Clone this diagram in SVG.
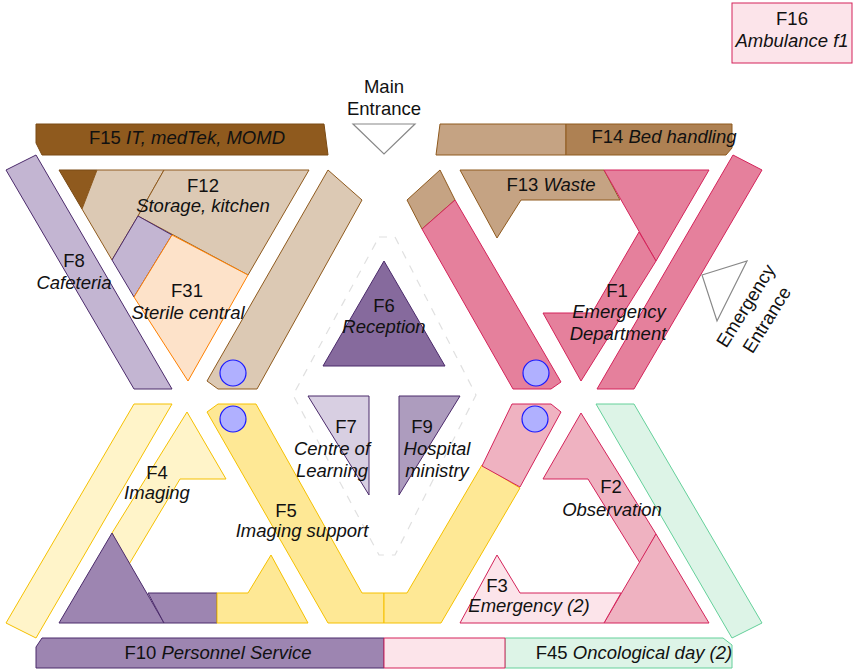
<svg xmlns="http://www.w3.org/2000/svg" width="853" height="672" viewBox="0 0 853 672">
<style>
text{font-family:"Liberation Sans",Arial,sans-serif;font-size:18.5px;fill:#111;text-anchor:middle}
.i{font-style:italic}
.brD{fill:#8f5a1e;stroke:#7a4a14;stroke-width:1}
.tan{fill:#dcc9b4;stroke:#8f5a1e;stroke-width:1}
.tanM{fill:#c5a383;stroke:#8f5a1e;stroke-width:1}
.tanD{fill:#ae8153;stroke:#8f5a1e;stroke-width:1}
.pk{fill:#e5809c;stroke:#d4235a;stroke-width:1}
.pkL{fill:#efb2c1;stroke:#d4235a;stroke-width:1}
.pkP{fill:#fce4ea;stroke:#d4235a;stroke-width:1}
.pu6{fill:#866a9d;stroke:#4b2a6b;stroke-width:1}
.pu7{fill:#d8cfe2;stroke:#4b2a6b;stroke-width:1}
.pu8{fill:#c3b5d2;stroke:#4b2a6b;stroke-width:1}
.pu9{fill:#ad9cbe;stroke:#4b2a6b;stroke-width:1}
.pu10{fill:#9d85b1;stroke:#4b2a6b;stroke-width:1}
.ye{fill:#fee895;stroke:#f5c000;stroke-width:1}
.yeL{fill:#fff4c9;stroke:#f5c000;stroke-width:1}
.pe{fill:#fde2c9;stroke:#ff8000;stroke-width:1}
.gr{fill:#ddf4e7;stroke:#64d09a;stroke-width:1}
.ent{fill:#fff;stroke:#888;stroke-width:1.2}
.lift{fill:#b0b0ff;stroke:#1a1aff;stroke-width:1.2}
.dash{fill:none;stroke:#e0e0e0;stroke-width:1.2;stroke-dasharray:8,8}
</style>
<g id="core-zone"><polygon class="dash" points="379,237 395,237 476,395 395,555 379,555 293,395"/></g>
<g id="F15"><polygon class="brD" points="36,124 324,124 328,155 42,155 36,143"/><text x="187" y="144">F15 <tspan class="i">IT, medTek, MOMD</tspan></text></g>
<g id="main-entrance"><polygon class="ent" points="353,124 415,124 384,154"/><text x="384" y="93">Main</text><text x="384" y="115">Entrance</text></g>
<g id="F14"><polygon class="tanM" points="440,124 566,124 566,155 436,155"/><polygon class="tanD" points="566,124 732,124 732,148 726,155 566,155"/><text x="664" y="143">F14 <tspan class="i">Bed handling</tspan></text></g>
<g id="F16"><rect class="pkP" x="732" y="3" width="120" height="60"/><text x="792" y="25">F16</text><text class="i" x="792" y="47">Ambulance f1</text></g>
<g id="corridor-NW"><polygon class="tan" points="328,170 362,200 257,389 218,389 207,381"/><circle class="lift" cx="233" cy="373" r="13"/></g>
<g id="F8"><polygon class="pu8" points="6,170 36,155 172,389 134,389"/><text x="74" y="267">F8</text><text class="i" x="74" y="289">Cafeteria</text></g>
<g id="F12"><polygon class="brD" points="59,170 97,170 82,209"/><polygon class="tan" points="97,170 164,170 138,216 112,260 82,209"/><polygon class="tan" points="164,170 309,170 248,275 138,216"/><polygon class="pu8" points="138,216 172,235 134,297 112,260"/><text x="203" y="192">F12</text><text class="i" x="203" y="212">Storage, kitchen</text></g>
<g id="F31"><polygon class="pe" points="172,235 248,275 188,381 134,297"/><text x="187" y="297">F31</text><text class="i" x="188" y="319">Sterile central</text></g>
<g id="F13"><polygon class="tanM" points="460,170 604,170 620,200 521,200 497,238"/><text x="551" y="191">F13 <tspan class="i">Waste</tspan></text></g>
<g id="F1"><polygon class="tanM" points="407,200 440,170 455,200 422,229"/><polygon class="pk" points="422,229 455,200 561,382 551,389 513,389"/><circle class="lift" cx="536" cy="373" r="13"/><polygon class="pk" points="604,170 709,170 656,261"/><polygon class="pk" points="639,232 656,261 581,381 543,313 592,313"/><polygon class="pk" points="733,155 762,170 634,389 597,389"/><text x="617" y="297">F1</text><text class="i" x="619" y="318">Emergency</text><text class="i" x="618" y="340">Department</text></g>
<g id="emergency-entrance"><polygon class="ent" points="702,275 747,261 717,321"/><text transform="translate(746,306) rotate(-58)" x="0" y="6">Emergency</text><text transform="translate(767,320) rotate(-58)" x="0" y="6">Entrance</text></g>
<g id="F6"><polygon class="pu6" points="384,261 445,366 323,366"/><text x="384" y="312">F6</text><text class="i" x="384" y="333">Reception</text></g>
<g id="F7"><polygon class="pu7" points="308,396 369,396 369,495"/><text x="346" y="433">F7</text><text class="i" x="332" y="455">Centre of</text><text class="i" x="332" y="477">Learning</text></g>
<g id="F9"><polygon class="pu9" points="399,396 460,396 399,495"/><text x="422" y="433">F9</text><text class="i" x="437" y="455">Hospital</text><text class="i" x="437" y="477">ministry</text></g>
<g id="F4"><polygon class="yeL" points="6,623 134,404 172,404 36,638"/><polygon class="yeL" points="187,412 226,479 180,479 128,566 112,533"/><text x="157" y="479">F4</text><text class="i" x="157" y="499">Imaging</text></g>
<g id="F10"><polygon class="pu10" points="112,533 164,623 59,623"/><polygon class="pu10" points="148,593 217,593 217,623 164,623"/><polygon class="pu10" points="42,638 384,638 384,668 36,668 36,647"/><text x="218" y="659">F10 <tspan class="i">Personnel Service</tspan></text></g>
<g id="F5"><polygon class="ye" points="217,593 248,593 271,555 308,623 217,623"/><polygon class="ye" points="207,412 218,404 256,404 362,593 384,593 384,623 328,623"/><circle class="lift" cx="233" cy="419" r="13"/><polygon class="ye" points="384,593 407,593 482,465 520,488 441,623 384,623"/><text x="286" y="517">F5</text><text class="i" x="302" y="537">Imaging support</text></g>
<g id="F45"><polygon class="gr" points="596,404 634,404 762,623 732,638"/><polygon class="gr" points="505,638 723,638 732,645 732,668 505,668"/><text x="634" y="659">F45 <tspan class="i">Oncological day (2)</tspan></text></g>
<g id="F2"><polygon class="pkL" points="512,404 551,404 561,412 520,487 482,466"/><circle class="lift" cx="535" cy="419" r="13"/><polygon class="pkL" points="581,413 656,534 640,563 588,479 543,479"/><polygon class="pkL" points="656,534 709,623 604,623"/><text x="611" y="493">F2</text><text class="i" x="612" y="516">Observation</text></g>
<g id="F3"><polygon class="pkP" points="497,555 520,593 621,593 604,623 460,623"/><polygon class="pkP" points="384,638 505,638 505,668 384,668"/><text x="497" y="592">F3</text><text class="i" x="529" y="612">Emergency (2)</text></g>
<g id="connectors"/>
</svg>
